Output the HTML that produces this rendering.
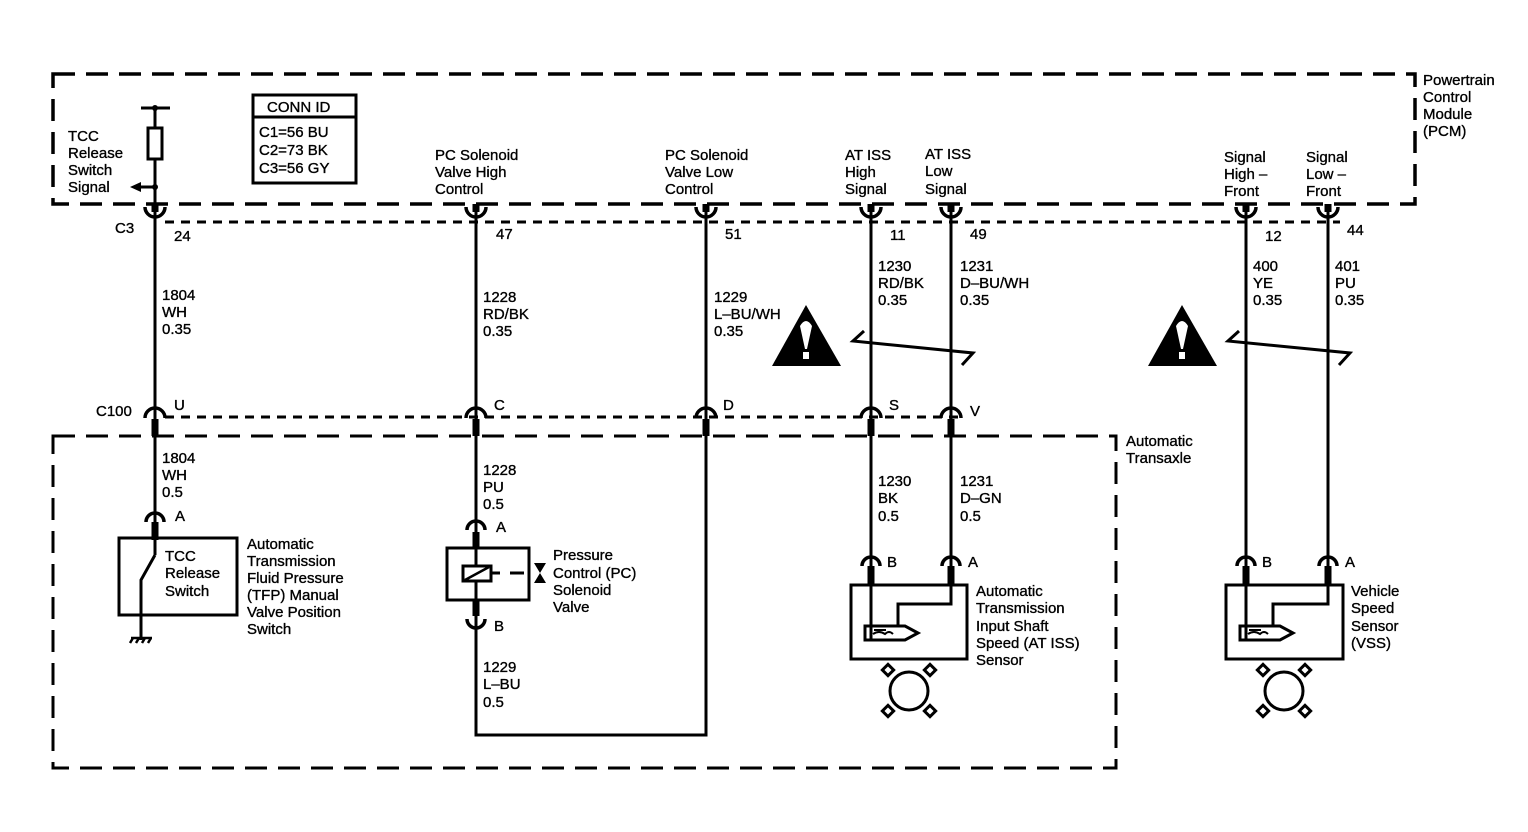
<!DOCTYPE html>
<html><head><meta charset="utf-8"><style>
html,body{margin:0;padding:0;background:#fff;}
svg{display:block;}
text{font-family:"Liberation Sans",sans-serif;font-size:15px;fill:#000;stroke:#000;stroke-width:0.35;}
</style></head><body>
<svg width="1528" height="832" viewBox="0 0 1528 832" xmlns="http://www.w3.org/2000/svg">
<g fill="none" stroke="#000">
<rect x="53" y="74" width="1362" height="130" stroke-width="3.5" stroke-dasharray="22,11"/>
<rect x="53" y="436" width="1063" height="332" stroke-width="3" stroke-dasharray="22,11"/>
<line x1="165" y1="222" x2="1340" y2="222" stroke-width="3" stroke-dasharray="9,7"/>
<line x1="165" y1="417" x2="962" y2="417" stroke-width="3" stroke-dasharray="9,7"/>
<g stroke-width="3">
<line x1="155" y1="108" x2="155" y2="555"/>
<line x1="141" y1="108" x2="170" y2="108"/>
<line x1="476" y1="204" x2="476" y2="735"/>
<line x1="706" y1="204" x2="706" y2="735"/>
<line x1="474.5" y1="735" x2="707.5" y2="735"/>
<line x1="871" y1="204" x2="871" y2="640"/>
<line x1="951" y1="204" x2="951" y2="600"/>
<line x1="1246" y1="204" x2="1246" y2="640"/>
<line x1="1328" y1="204" x2="1328" y2="600"/>
<line x1="140" y1="187" x2="155" y2="187"/>
</g>
<rect x="148" y="128" width="14" height="31" stroke-width="3" fill="#fff"/>
<g stroke-width="7">
<line x1="155" y1="204" x2="155" y2="212"/><line x1="476" y1="204" x2="476" y2="212"/>
<line x1="706" y1="204" x2="706" y2="212"/><line x1="871" y1="204" x2="871" y2="212"/>
<line x1="951" y1="204" x2="951" y2="212"/><line x1="1246" y1="204" x2="1246" y2="212"/>
<line x1="1328" y1="204" x2="1328" y2="212"/>
<line x1="155" y1="419" x2="155" y2="436"/><line x1="476" y1="419" x2="476" y2="436"/>
<line x1="706" y1="419" x2="706" y2="436"/><line x1="871" y1="419" x2="871" y2="436"/>
<line x1="951" y1="419" x2="951" y2="436"/>
<line x1="155" y1="522" x2="155" y2="540"/>
<line x1="476" y1="532" x2="476" y2="548"/>
<line x1="476" y1="600" x2="476" y2="616"/>
<line x1="871" y1="566" x2="871" y2="586"/><line x1="951" y1="566" x2="951" y2="586"/>
<line x1="1246" y1="566" x2="1246" y2="586"/><line x1="1328" y1="566" x2="1328" y2="586"/>
</g>
<g stroke-width="3.5">
<path d="M145,207 A10,10 0 0 0 165,207"/><path d="M466,207 A10,10 0 0 0 486,207"/>
<path d="M696,207 A10,10 0 0 0 716,207"/><path d="M861,207 A10,10 0 0 0 881,207"/>
<path d="M941,207 A10,10 0 0 0 961,207"/><path d="M1236,207 A10,10 0 0 0 1256,207"/>
<path d="M1318,207 A10,10 0 0 0 1338,207"/>
<path d="M145,418 A10,10 0 0 1 165,418"/><path d="M466,418 A10,10 0 0 1 486,418"/>
<path d="M696,418 A10,10 0 0 1 716,418"/><path d="M861,418 A10,10 0 0 1 881,418"/>
<path d="M941,418 A10,10 0 0 1 961,418"/>
<path d="M146,522 A9,9 0 0 1 164,522"/>
<path d="M467,530 A9,9 0 0 1 485,530"/>
<path d="M467,619 A9,9 0 0 0 485,619"/>
<path d="M862,566 A9,9 0 0 1 880,566"/><path d="M942,566 A9,9 0 0 1 960,566"/>
<path d="M1237,566 A9,9 0 0 1 1255,566"/><path d="M1319,566 A9,9 0 0 1 1337,566"/>
</g>
<rect x="253" y="95" width="103" height="88" stroke-width="3"/>
<line x1="253" y1="117" x2="356" y2="117" stroke-width="3"/>
<rect x="119" y="538" width="118" height="77" stroke-width="3"/>
<line x1="155" y1="536" x2="155" y2="555" stroke-width="3"/>
<path d="M155,555 L141,580 L141,640" stroke-width="3"/>
<path d="M131,638 L152,638 M133,638 L130,643 M139,638 L136,643 M145,638 L142,643 M151,638 L148,643" stroke-width="2.5"/>
<rect x="447" y="548" width="82" height="52" stroke-width="3"/>
<rect x="463" y="566" width="28" height="15" stroke-width="3" fill="#fff"/>
<line x1="465" y1="580" x2="489" y2="567" stroke-width="2.5"/>
<line x1="491" y1="573" x2="500" y2="573" stroke-width="3"/>
<line x1="510" y1="573" x2="524" y2="573" stroke-width="3"/>
<rect x="851" y="585" width="116" height="74" stroke-width="3"/>
<path d="M951,585 L951,604 L898,604 L898,627" stroke-width="3"/>
<path d="M865,626 L905,626 L918,633 L905,640 L865,640 Z" stroke-width="3"/>
<path d="M874,630 L886,630 M873,634 Q879,630 885,634 Q889,630 893,634" stroke-width="2"/>
<rect x="1226" y="585" width="117" height="74" stroke-width="3"/>
<path d="M1328,585 L1328,604 L1273,604 L1273,627" stroke-width="3"/>
<path d="M1240,626 L1280,626 L1293,633 L1280,640 L1240,640 Z" stroke-width="3"/>
<path d="M1249,630 L1261,630 M1248,634 Q1254,630 1260,634 Q1264,630 1268,634" stroke-width="2"/>
<path d="M864,331 L853,341 L973,353 L962,365" stroke-width="3"/>
<path d="M1239,331 L1228,341 L1350,353 L1339,365" stroke-width="3"/>
</g>
<g fill="#000">
<polygon points="130,187 141,182 141,192"/>
<circle cx="155" cy="187" r="3"/>
<circle cx="155" cy="108" r="3"/>
<polygon points="534,563 546,563 534,583 546,583"/>
<g stroke="#000" stroke-width="3" fill="#fff">
<rect x="884" y="666" width="8" height="8" transform="rotate(45 888 670)"/>
<rect x="926" y="666" width="8" height="8" transform="rotate(45 930 670)"/>
<rect x="884" y="707" width="8" height="8" transform="rotate(45 888 711)"/>
<rect x="926" y="707" width="8" height="8" transform="rotate(45 930 711)"/>
<rect x="1259" y="666" width="8" height="8" transform="rotate(45 1263 670)"/>
<rect x="1301" y="666" width="8" height="8" transform="rotate(45 1305 670)"/>
<rect x="1259" y="707" width="8" height="8" transform="rotate(45 1263 711)"/>
<rect x="1301" y="707" width="8" height="8" transform="rotate(45 1305 711)"/>
</g>
<circle cx="909" cy="691" r="19.5" fill="#fff"/>
<circle cx="1284" cy="691" r="19.5" fill="#fff"/>
<polygon points="806,305 772,366 841,366"/>
<polygon points="1182,305 1148,366 1217,366"/>
</g>
<g fill="#fff">
<path d="M800,326 Q806,316 812,326 L807,349 L805,349 Z"/><rect x="803" y="352" width="6" height="7"/>
<path d="M1176,326 Q1182,316 1188,326 L1183,349 L1181,349 Z"/><rect x="1179" y="352" width="6" height="7"/>
</g>
<circle cx="909" cy="691" r="19" fill="none" stroke="#000" stroke-width="3"/>
<circle cx="1284" cy="691" r="19" fill="none" stroke="#000" stroke-width="3"/>
<g>
<text x="267" y="112">CONN ID</text>
<text x="259" y="137">C1=56 BU</text><text x="259" y="155">C2=73 BK</text><text x="259" y="173">C3=56 GY</text>
<text x="68" y="141">TCC</text><text x="68" y="158">Release</text><text x="68" y="175">Switch</text><text x="68" y="192">Signal</text>
<text x="435" y="160">PC Solenoid</text><text x="435" y="177">Valve High</text><text x="435" y="194">Control</text>
<text x="665" y="160">PC Solenoid</text><text x="665" y="177">Valve Low</text><text x="665" y="194">Control</text>
<text x="845" y="160">AT ISS</text><text x="845" y="177">High</text><text x="845" y="194">Signal</text>
<text x="925" y="159">AT ISS</text><text x="925" y="176">Low</text><text x="925" y="194">Signal</text>
<text x="1224" y="162">Signal</text><text x="1224" y="179">High –</text><text x="1224" y="196">Front</text>
<text x="1306" y="162">Signal</text><text x="1306" y="179">Low –</text><text x="1306" y="196">Front</text>
<text x="1423" y="85">Powertrain</text><text x="1423" y="102">Control</text><text x="1423" y="119">Module</text><text x="1423" y="136">(PCM)</text>
<text x="115" y="233">C3</text><text x="174" y="241">24</text><text x="496" y="239">47</text><text x="725" y="239">51</text>
<text x="890" y="240">11</text><text x="970" y="239">49</text><text x="1265" y="241">12</text><text x="1347" y="235">44</text>
<text x="162" y="300">1804</text><text x="162" y="317">WH</text><text x="162" y="334">0.35</text>
<text x="483" y="302">1228</text><text x="483" y="319">RD/BK</text><text x="483" y="336">0.35</text>
<text x="714" y="302">1229</text><text x="714" y="319">L–BU/WH</text><text x="714" y="336">0.35</text>
<text x="878" y="271">1230</text><text x="878" y="288">RD/BK</text><text x="878" y="305">0.35</text>
<text x="960" y="271">1231</text><text x="960" y="288">D–BU/WH</text><text x="960" y="305">0.35</text>
<text x="1253" y="271">400</text><text x="1253" y="288">YE</text><text x="1253" y="305">0.35</text>
<text x="1335" y="271">401</text><text x="1335" y="288">PU</text><text x="1335" y="305">0.35</text>
<text x="96" y="416">C100</text><text x="174" y="410">U</text><text x="494" y="410">C</text><text x="723" y="410">D</text>
<text x="889" y="410">S</text><text x="970" y="416">V</text>
<text x="1126" y="446">Automatic</text><text x="1126" y="463">Transaxle</text>
<text x="162" y="463">1804</text><text x="162" y="480">WH</text><text x="162" y="497">0.5</text>
<text x="483" y="475">1228</text><text x="483" y="492">PU</text><text x="483" y="509">0.5</text>
<text x="878" y="486">1230</text><text x="878" y="503">BK</text><text x="878" y="521">0.5</text>
<text x="960" y="486">1231</text><text x="960" y="503">D–GN</text><text x="960" y="521">0.5</text>
<text x="175" y="521">A</text><text x="496" y="532">A</text><text x="494" y="631">B</text>
<text x="887" y="567">B</text><text x="968" y="567">A</text><text x="1262" y="567">B</text><text x="1345" y="567">A</text>
<text x="165" y="561">TCC</text><text x="165" y="578">Release</text><text x="165" y="596">Switch</text>
<text x="247" y="549">Automatic</text><text x="247" y="566">Transmission</text><text x="247" y="583">Fluid Pressure</text><text x="247" y="600">(TFP) Manual</text><text x="247" y="617">Valve Position</text><text x="247" y="634">Switch</text>
<text x="553" y="560">Pressure</text><text x="553" y="578">Control (PC)</text><text x="553" y="595">Solenoid</text><text x="553" y="612">Valve</text>
<text x="483" y="672">1229</text><text x="483" y="689">L–BU</text><text x="483" y="707">0.5</text>
<text x="976" y="596">Automatic</text><text x="976" y="613">Transmission</text><text x="976" y="631">Input Shaft</text><text x="976" y="648">Speed (AT ISS)</text><text x="976" y="665">Sensor</text>
<text x="1351" y="596">Vehicle</text><text x="1351" y="613">Speed</text><text x="1351" y="631">Sensor</text><text x="1351" y="648">(VSS)</text>
</g>
</svg>
</body></html>
